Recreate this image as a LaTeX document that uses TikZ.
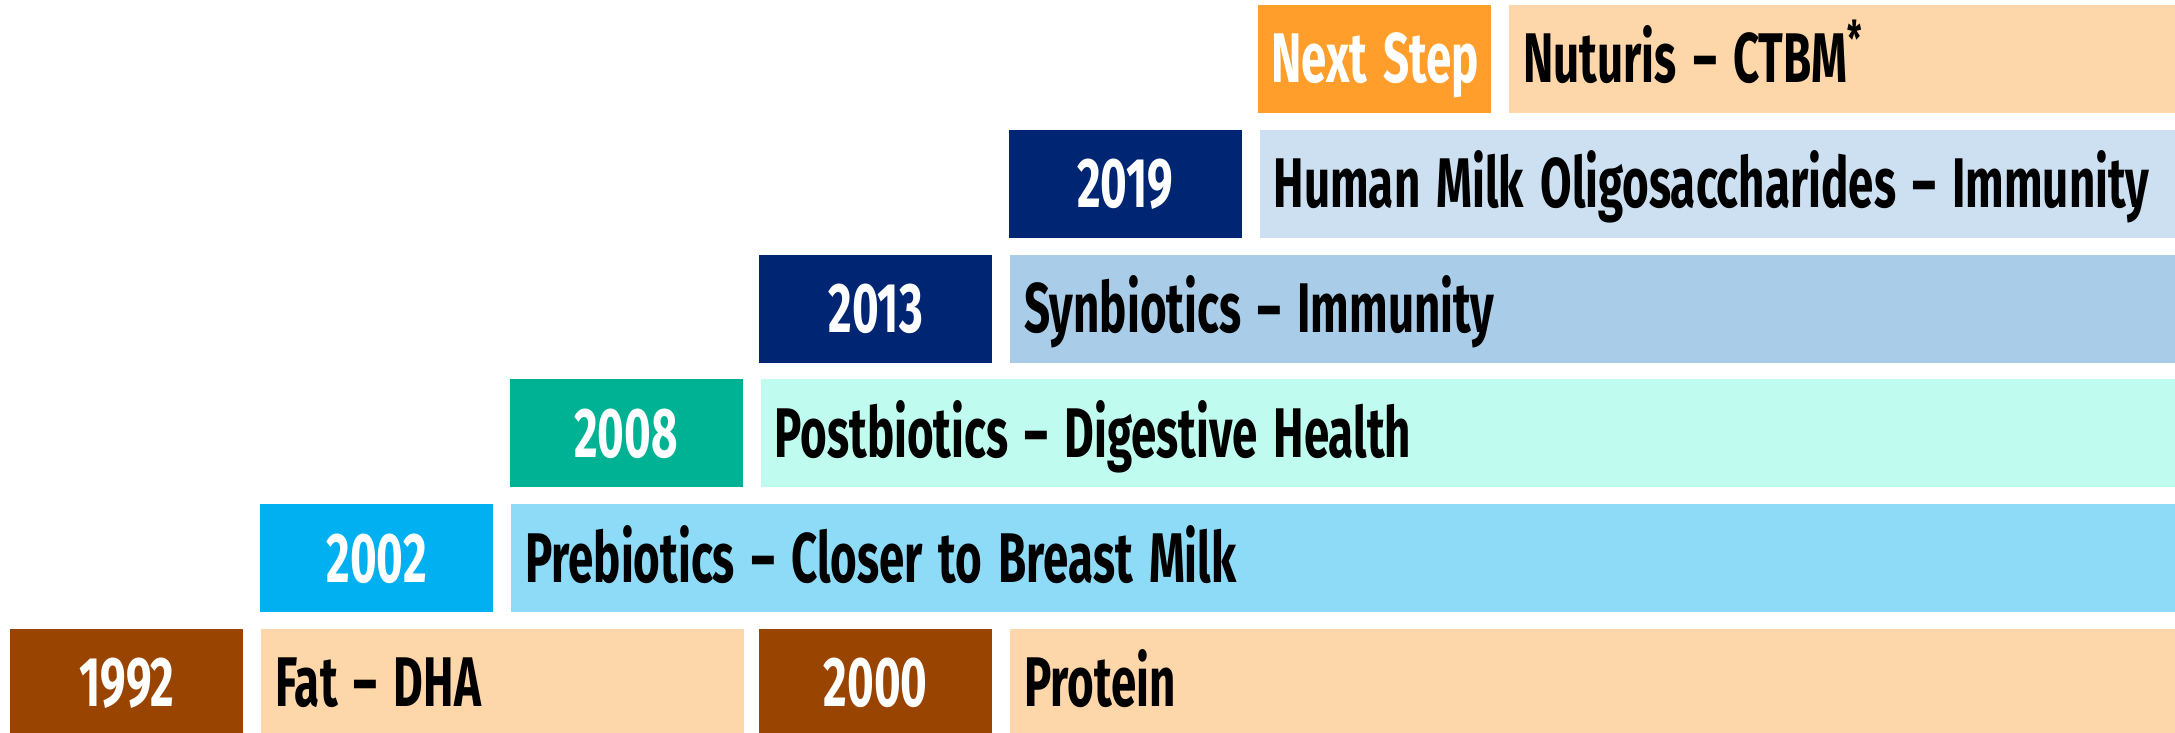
\documentclass[tikz,border=0pt]{standalone}
\usepackage{fontspec}
\newfontfamily\oswald[FakeStretch=0.65, WordSpace=1.5, Ligatures=TeX]{Fira Sans}
\usetikzlibrary{positioning}

\definecolor{brownyr}{HTML}{994400}
\definecolor{peach}{HTML}{FDD6A9}
\definecolor{cyanyr}{HTML}{00B0F0}
\definecolor{skyblue}{HTML}{8EDBF8}
\definecolor{tealyr}{HTML}{00B294}
\definecolor{mint}{HTML}{BFFCEF}
\definecolor{navyyr}{HTML}{002673}
\definecolor{steelblue}{HTML}{A9CDE9}
\definecolor{paleblue}{HTML}{CCE0F2}
\definecolor{orangeyr}{HTML}{FF9E2A}

\tikzset{
	yearbox/.style={fill=#1, anchor=north west, minimum width=2.33cm, minimum height=1.08cm,
		inner sep=0pt, text=white, text height=0.48cm, text depth=0cm,
		font=\oswald\bfseries\fontsize{20}{24}\selectfont},
	factbox/.style={fill=#1, minimum height=1.08cm, inner xsep=0.14cm, inner ysep=0pt,
		align=flush left, text=black, text height=0.48cm, text depth=0cm,
		font=\oswald\bfseries\fontsize{20}{24}\selectfont},
}

\begin{document}
\begin{tikzpicture}
	\def\gap{0.166cm}   % space between boxes

\clip (0,0) rectangle (21.75,-7.32);

% bottom row
\node[yearbox=brownyr] (y1992) at (0.097,-6.282) {1992};
\node[factbox=peach, text width=4.546cm, right=\gap of y1992] (fat) {Fat -- DHA};
\node[yearbox=brownyr] (y2000) at (7.585,-6.282) {2000};
\node[factbox=peach, text width=11.389cm, right=\gap of y2000] (protein) {Protein};

% 2002
\node[yearbox=cyanyr] (y2002) at (2.593,-5.034) {2002};
\node[factbox=skyblue, text width=16.381cm, right=\gap of y2002] (prebio) {Prebiotics -- Closer to Breast Milk};

% 2008
\node[yearbox=tealyr] (y2008) at (5.089,-3.786) {2008};
\node[factbox=mint, text width=13.885cm, right=\gap of y2008] (postbio) {Postbiotics -- Digestive Health};

% 2013
\node[yearbox=navyyr] (y2013) at (7.585,-2.538) {2013};
\node[factbox=steelblue, text width=11.389cm, right=\gap of y2013] (synbio) {Synbiotics -- Immunity};

% 2019
\node[yearbox=navyyr] (y2019) at (10.081,-1.29) {2019};
\node[factbox=paleblue, text width=8.893cm, right=\gap of y2019] (hmo) {Human Milk Oligosaccharides -- Immunity};

% next step
\node[yearbox=orangeyr] (next) at (12.577,-0.042) {Next Step};
\node[factbox=peach, text width=6.397cm, right=\gap of next] (nuturis) {Nuturis -- CTBM\textsuperscript{*}};

\end{tikzpicture}
\end{document}
